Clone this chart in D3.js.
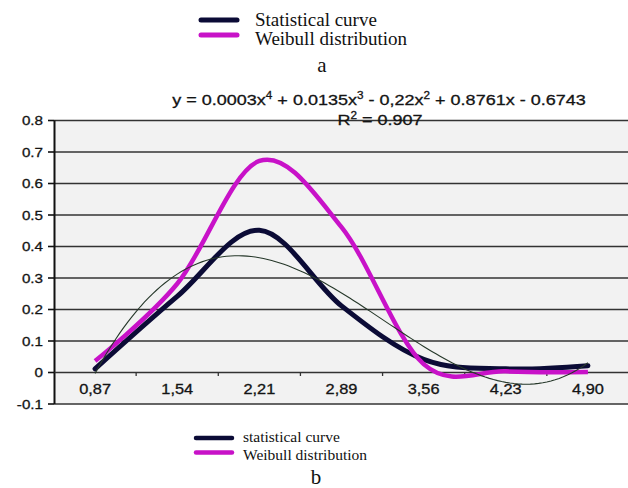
<!DOCTYPE html>
<html>
<head>
<meta charset="utf-8">
<script src="https://cdn.jsdelivr.net/npm/d3@7"></script>
<style>
  html, body { margin: 0; padding: 0; background: #ffffff; }
  svg { display: block; }
</style>
</head>
<body>
<script>
// ---- data ----
const categories = ["0,87", "1,54", "2,21", "2,89", "3,56", "4,23", "4,90"];
const statisticalCurve = [0.01, 0.24, 0.45, 0.21, 0.04, 0.01, 0.02];
const weibullCurve = [0.035, 0.28, 0.67, 0.46, 0.025, 0.002, 0.0];
const yTickValues = [-0.1, 0, 0.1, 0.2, 0.3, 0.4, 0.5, 0.6, 0.7, 0.8];
const yTickLabels = ["-0.1", "0", "0.1", "0.2", "0.3", "0.4", "0.5", "0.6", "0.7", "0.8"];
// polynomial trendline of the statistical curve, coefficients for x^4 .. x^0 (x = point index 1..7)
const trendCoefficients = [0.0003, 0.0135, -0.22, 0.8761, -0.6743];
const trendR2 = "0.907";
const legendTopLabels = ["Statistical curve", "Weibull distribution"];
const legendBottomLabels = ["statistical curve", "Weibull distribution"];
const panelLabels = ["a", "b"];

// ---- setup ----
const W = 628, H = 488;
const SANS = "'Liberation Sans', Arial, sans-serif";
const SERIF = "'Liberation Serif', 'Times New Roman', serif";
const STRETCH = 1.17;           // chart text is set slightly wide
const COL_STAT = "#0b0b36";
const COL_WEIB = "#c812c8";
const TEXT_COL = "#141414";

const svg = d3.select("body").append("svg")
  .attr("width", W).attr("height", H)
  .attr("viewBox", `0 0 ${W} ${H}`);

svg.append("rect").attr("width", W).attr("height", H).attr("fill", "#ffffff");

const plotLeft = 54, plotRight = 629, plotTop = 120, plotBottom = 403.5;

const x = d3.scaleBand().domain(categories).range([plotLeft, plotRight]).paddingInner(0).paddingOuter(0);
const bw = x.bandwidth();
const xc = c => x(c) + bw / 2;
const xi = d3.scaleLinear().domain([1, categories.length])
  .range([xc(categories[0]), xc(categories[categories.length - 1])]);
const y = d3.scaleLinear().domain([-0.1, 0.8]).range([plotBottom, plotTop]);

// plot area
svg.append("rect")
  .attr("x", plotLeft).attr("y", y(0.8))
  .attr("width", W - plotLeft).attr("height", y(-0.1) - y(0.8))
  .attr("fill", "#f2f2f2");

// horizontal gridlines
svg.append("g")
  .attr("transform", `translate(${plotLeft},0)`)
  .call(d3.axisLeft(y).tickValues(yTickValues.filter(v => v !== 0))
    .tickSize(-(W - plotLeft)).tickFormat(""))
  .call(g => g.select(".domain").remove())
  .call(g => g.selectAll(".tick line").attr("stroke", "#333333").attr("stroke-width", 1.5));

// y axis
svg.append("g")
  .attr("transform", `translate(${plotLeft},0)`)
  .call(d3.axisLeft(y).tickValues(yTickValues)
    .tickFormat((d, i) => yTickLabels[i]).tickSize(6).tickSizeOuter(0).tickPadding(0))
  .call(g => g.select(".domain").attr("stroke", "#111").attr("stroke-width", 2))
  .call(g => g.selectAll(".tick line").attr("stroke", "#111").attr("stroke-width", 1.6))
  .call(g => g.selectAll(".tick text")
    .attr("x", -11 / STRETCH)
    .attr("dy", "0.36em")
    .attr("transform", `scale(${STRETCH},1)`)
    .attr("font-family", SANS).attr("font-size", 13)
    .attr("fill", TEXT_COL).attr("stroke", TEXT_COL).attr("stroke-width", 0.3));

// x axis on the zero line
svg.append("g")
  .attr("transform", `translate(0,${y(0)})`)
  .call(d3.axisBottom(x).tickSize(0).tickSizeOuter(0).tickPadding(12))
  .call(g => g.select(".domain").attr("stroke", "#333333").attr("stroke-width", 1.5))
  .call(g => g.selectAll(".tick text")
    .attr("transform", `scale(${STRETCH},1)`)
    .attr("font-family", SANS).attr("font-size", 14)
    .attr("fill", TEXT_COL).attr("stroke", TEXT_COL).attr("stroke-width", 0.3));

// category tick marks between labels
svg.append("g").selectAll("line")
  .data(categories.slice(1))
  .join("line")
  .attr("x1", d => x(d)).attr("x2", d => x(d))
  .attr("y1", y(0)).attr("y2", y(0) + 4)
  .attr("stroke", "#333333").attr("stroke-width", 1.3);

// series
const line = d3.line()
  .x((d, i) => xc(categories[i]))
  .y(d => y(d))
  .curve(d3.curveCardinal.tension(0));

svg.append("path").datum(statisticalCurve)
  .attr("d", line).attr("fill", "none")
  .attr("stroke", COL_STAT).attr("stroke-width", 5)
  .attr("stroke-linejoin", "round").attr("stroke-linecap", "round");

svg.append("path").datum(weibullCurve)
  .attr("d", line).attr("fill", "none")
  .attr("stroke", COL_WEIB).attr("stroke-width", 4.5)
  .attr("stroke-linejoin", "round").attr("stroke-linecap", "butt");

// polynomial trendline
const poly = t => trendCoefficients.reduce((acc, c) => acc * t + c, 0);
const trendX = d3.range(1, categories.length + 0.0001, 0.05);
svg.append("path").datum(trendX)
  .attr("d", d3.line().x(t => xi(t)).y(t => y(poly(t))))
  .attr("fill", "none").attr("stroke", "#26382a").attr("stroke-width", 1.1);

// trendline equation
const fmt = v => Math.abs(v).toString();
const eq = svg.append("g").attr("transform", `translate(379,105) scale(${STRETCH},1)`)
  .append("text")
  .attr("text-anchor", "middle")
  .attr("font-family", SANS).attr("font-size", 15.4)
  .attr("fill", TEXT_COL).attr("stroke", TEXT_COL).attr("stroke-width", 0.3);
eq.append("tspan").text(`y = ${fmt(trendCoefficients[0])}x`);
eq.append("tspan").attr("dy", -6).attr("font-size", 10).text("4");
eq.append("tspan").attr("dy", 6).text(` + ${fmt(trendCoefficients[1])}x`);
eq.append("tspan").attr("dy", -6).attr("font-size", 10).text("3");
eq.append("tspan").attr("dy", 6).text(` - ${fmt(trendCoefficients[2]).replace(".", ",")}x`);
eq.append("tspan").attr("dy", -6).attr("font-size", 10).text("2");
eq.append("tspan").attr("dy", 6).text(` + ${fmt(trendCoefficients[3])}x - ${fmt(trendCoefficients[4])}`);

const r2 = svg.append("g").attr("transform", `translate(380,124.5) scale(${STRETCH},1)`)
  .append("text")
  .attr("text-anchor", "middle")
  .attr("font-family", SANS).attr("font-size", 15.4)
  .attr("fill", TEXT_COL).attr("stroke", TEXT_COL).attr("stroke-width", 0.3);
r2.append("tspan").text("R");
r2.append("tspan").attr("dy", -6).attr("font-size", 10).text("2");
r2.append("tspan").attr("dy", 6).text(` = ${trendR2}`);

// legends
function legend(items, colors, lx0, lx1, lineYs, tx, textYs, size, lw) {
  const g = svg.append("g");
  items.forEach((label, i) => {
    g.append("line")
      .attr("x1", lx0).attr("x2", lx1)
      .attr("y1", lineYs[i]).attr("y2", lineYs[i])
      .attr("stroke", colors[i]).attr("stroke-width", lw)
      .attr("stroke-linecap", "round");
    g.append("text")
      .attr("x", tx).attr("y", textYs[i])
      .attr("font-family", SERIF).attr("font-size", size)
      .attr("fill", "#111")
      .text(label);
  });
}
legend(legendTopLabels, [COL_STAT, COL_WEIB], 201, 237, [20, 35], 255, [26, 44.5], 19, 5);
legend(legendBottomLabels, [COL_STAT, COL_WEIB], 196, 232, [438, 452.5], 243, [442, 460], 15.5, 4.5);

svg.append("text").attr("x", 322).attr("y", 72)
  .attr("text-anchor", "middle")
  .attr("font-family", SERIF).attr("font-size", 21).attr("fill", "#111")
  .text(panelLabels[0]);
svg.append("text").attr("x", 316).attr("y", 484)
  .attr("text-anchor", "middle")
  .attr("font-family", SERIF).attr("font-size", 21).attr("fill", "#111")
  .text(panelLabels[1]);
</script>
</body>
</html>
